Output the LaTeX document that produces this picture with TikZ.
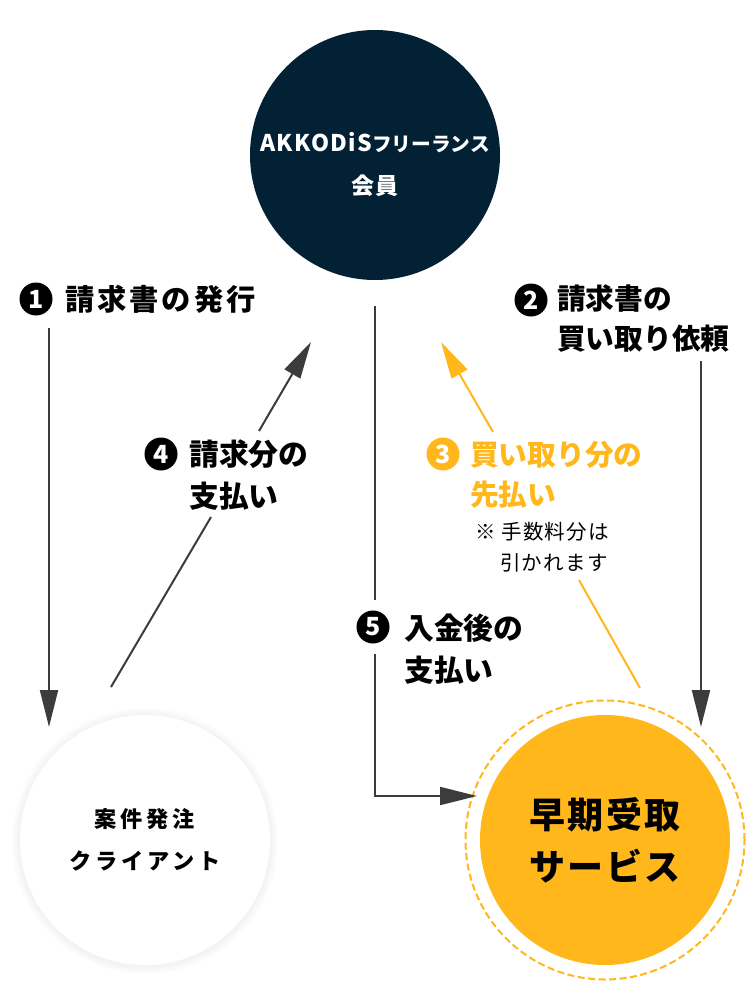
\documentclass[tikz,border=0pt]{standalone}
\usepackage{fontspec}
\newfontfamily\jpfont{Noto Sans CJK JP}
\newfontfamily\jpwide[LetterSpace=6]{Noto Sans CJK JP}
\newfontfamily\jptrack[LetterSpace=17]{Noto Sans CJK JP}
\usetikzlibrary{arrows.meta}
\definecolor{navy}{HTML}{022135}
\definecolor{amber}{HTML}{FFB71B}
\definecolor{linegray}{HTML}{3C3D3A}
\tikzset{
	flow/.style = {draw=linegray, line width=2pt, -{Triangle[length=37pt,width=18pt]}},
	plain/.style = {draw=linegray, line width=2pt},
	num/.style = {circle, fill=black, text=white, minimum size=33pt, inner sep=0pt, font=\jpfont\bfseries\fontsize{25}{25}\selectfont},
	lbl/.style = {anchor=west, inner sep=0pt, align=left, font=\jpfont\bfseries\fontsize{28.7}{40}\selectfont},
	lblbig/.style = {lbl, font=\jpfont\bfseries\fontsize{29.8}{42}\selectfont},
	ball/.style = {circle, minimum size=250pt, inner sep=0pt, align=center}
}
\begin{document}
\begin{tikzpicture}[x=1pt, y=-1pt]
	\useasboundingbox (0,0) rectangle (750,995);

	% soft edge of the client circle
	\foreach \r in {133,131,129,127}
		\fill[black, opacity=0.012] (145,841) circle (\r pt);

	\node[ball, fill=navy] (member) at (375,155) {};
	\node[align=center, inner sep=0pt, text=white, font=\jpwide\bfseries\fontsize{23}{43}\selectfont] (membertxt) at (375,165) {AKKODiS{\jpfont\fontsize{19.7}{43}\selectfont フリーランス}\\会員};
	\node[ball, fill=white, font=\jptrack\bfseries\fontsize{22.2}{42}\selectfont] (client) at (145,840) {案件発注\\クライアント};
	\node[ball, fill=amber, font=\jpwide\bfseries\fontsize{36}{52}\selectfont] (service) at (605,840) {早期受取\\サービス};
	\draw[amber, line width=2pt, dash pattern=on 7pt off 3.5pt] (service) circle (139.5pt);

	\node[num] (n1) at (36,299) {1};
	\node[lbl, font=\jpwide\bfseries\fontsize{29.3}{40}\selectfont\addfontfeature{LetterSpace=10}] (l1) at (65,299) {請求書の発行};
	\node[num] (n2) at (531,300) {2};
	\node[lbl] (l2) at (557,319) {請求書の\\買い取り依頼};
	\node[num, fill=amber] (n3) at (443,454) {3};
	\node[lbl, text=amber] (l3) at (470,475) {買い取り分の\\先払い};
	\node[anchor=west, inner sep=0pt, align=left, font=\jpwide\fontsize{20.5}{31}\selectfont] (l3note) at (475,547) {※ 手数料分は\\\hspace*{25pt}引かれます};
	\node[num] (n4) at (161,454) {4};
	\node[lblbig] (l4) at (189,475) {請求分の\\支払い};
	\node[num] (n5) at (373,627) {5};
	\node[lblbig] (l5) at (404,649) {入金後の\\支払い};

	\coordinate (a1s) at (49,328);
	\coordinate (a1e) at (49,727);
	\coordinate (a2s) at (701,361);
	\coordinate (a2e) at (701,727);
	\coordinate (a3s) at (640,688);
	\coordinate (a3m) at (579,580);
	\coordinate (a3n) at (493,432);
	\coordinate (a3e) at (441,342);
	\coordinate (a4s) at (111,687);
	\coordinate (a4m) at (211,517);
	\coordinate (a4n) at (259,431);
	\coordinate (a4e) at (311,342);
	\coordinate (a5s) at (375,306);
	\coordinate (a5m) at (375,600);
	\coordinate (a5n) at (375,654);
	\coordinate (a5c) at (375,796);
	\coordinate (a5e) at (477,796);

	\draw[flow] (a1s) -- (a1e);
	\draw[flow] (a2s) -- (a2e);
	\draw[plain, draw=amber] (a3s) -- (a3m);
	\draw[flow, draw=amber] (a3n) -- (a3e);
	\draw[plain] (a4s) -- (a4m);
	\draw[flow] (a4n) -- (a4e);
	\draw[plain] (a5s) -- (a5m);
	\draw[flow] (a5n) -- (a5c) -- (a5e);
\end{tikzpicture}
\end{document}
